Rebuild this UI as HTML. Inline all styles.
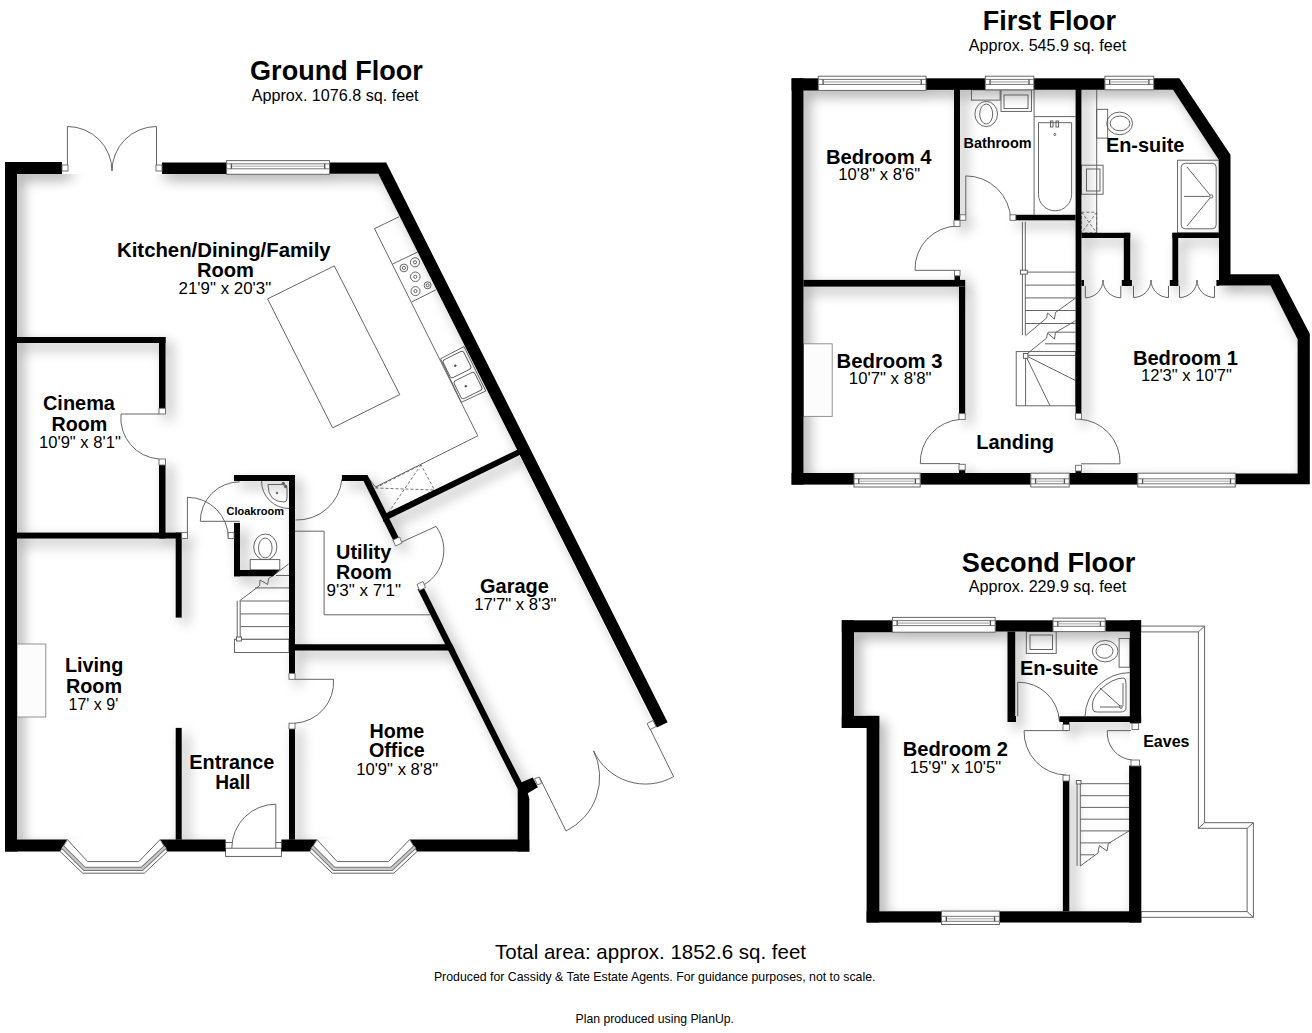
<!DOCTYPE html>
<html><head><meta charset="utf-8"><style>
html,body{margin:0;padding:0;background:#fff;}
svg{display:block;}
text{font-family:"Liberation Sans",sans-serif;fill:#000;}
.fx line,.fx polyline,.fx polygon,.fx path,.fx circle,.fx ellipse,.fx rect{fill:none;stroke:#555;stroke-width:0.9;}
.fx .cb{fill:#fcfcfc;stroke:#888;}
.fx .th{fill:#fff;}
.fx .dot{fill:#555;}
.fx .dash line,.fx .dash polyline,.fx .dash rect{stroke-dasharray:3 2;stroke:#666;}
.win .wo{fill:#fff;stroke:#666;stroke-width:1;}
.win .wl{stroke:#777;stroke-width:1;}
.win .wt{stroke:#555;stroke-width:1.4;}
.win .wm{stroke:#c4c4c4;stroke-width:1.6;}
.win .jb{fill:#fff;stroke:#666;stroke-width:0.9;}
.win .bay{fill:none;stroke:#777;stroke-width:4.2;}
.win .bay2{fill:none;stroke:#c8c8c8;stroke-width:2.4;}
</style></head><body>
<svg width="1312" height="1033" viewBox="0 0 1312 1033">
<defs>
<filter id="sh" x="-10%" y="-10%" width="120%" height="120%"><feGaussianBlur stdDeviation="6.5"/></filter>
<clipPath id="cg"><polygon points="17,174 378.3,173.8 655.5,727.5 539,777 517.7,789 517.7,839.6 17,839.6"/></clipPath>
<clipPath id="cf"><polygon points="803.5,90 1173,89.8 1219,160.2 1219,285.6 1270.5,285.6 1297.6,339.2 1297.6,473.2 803.5,473.2"/></clipPath>
<clipPath id="cs"><polygon points="854,632 1129.8,632 1129.8,911.3 879.4,911.3 879.4,728 854,728"/></clipPath>
</defs>
<rect width="1312" height="1033" fill="#fff"/>
<g clip-path="url(#cg)"><g transform="translate(6,6)" filter="url(#sh)" opacity="0.33"><rect x="5" y="162" width="12" height="689.5"/>
<rect x="5" y="162" width="57" height="12"/>
<rect x="162" y="162.5" width="65" height="11.5"/>
<polygon points="329.5,162.5 386.2,162.5 667.6,722.2 656.8,727.6 378.3,173.8 329.5,173.8"/>
<polygon points="5,839.6 67.4,839.6 60.1,851.5 5,851.5"/>
<polygon points="160.1,839.6 225.6,839.6 225.6,851.5 167.4,851.5"/>
<polygon points="281.4,839.6 317,839.6 309.7,851.5 281.4,851.5"/>
<polygon points="409.7,839.6 529.3,839.6 529.3,851.5 417,851.5"/>
<polygon points="498,750 505,750 521.7,782.3 532.7,777.4 537.9,787.2 527.8,793.3 529.3,798.2 529.3,851.5 517.7,851.5 517.7,789"/>
<polygon points="417.5,589 424.5,589 505,750 498,750"/>
<polygon points="341.9,475 367.5,475 400,540 393,540 363.5,481 341.9,481"/>
<polygon points="383,514.8 522,447.5 522,453.8 383,521.8"/>
<rect x="234" y="475" width="61" height="6"/>
<rect x="289" y="475" width="6" height="198"/>
<rect x="234" y="522.9" width="6" height="53.4"/>
<polygon points="234,570 279.3,570 273,576.3 234,576.3"/>
<rect x="289" y="729" width="6" height="110.7"/>
<rect x="17" y="337" width="148.5" height="6"/>
<rect x="159" y="337" width="6.5" height="71.3"/>
<rect x="159" y="465" width="6.5" height="73.5"/>
<rect x="17" y="532.6" width="164.7" height="5.9"/>
<rect x="175.7" y="532.6" width="6" height="85"/>
<rect x="175.7" y="727.9" width="6" height="111.8"/>
<polygon points="295,644.2 452.1,644.2 455.2,650.5 295,650.5"/>
<rect x="791.6" y="78.3" width="11.9" height="406.3"/>
<rect x="791.6" y="78.3" width="26.7" height="12.2"/>
<rect x="926" y="78.3" width="59.3" height="11.6"/>
<rect x="1033.8" y="78.3" width="71.1" height="11.5"/>
<polygon points="1153.7,78.3 1179.4,78.3 1230.5,154.7 1230.5,274.2 1278.7,274.2 1309.8,333.8 1309.8,484.2 1235.3,484.2 1235.3,473.4 1297.6,473.4 1297.6,339.2 1270.5,285.6 1219,285.6 1219,160.2 1173,89.8 1153.7,89.8"/>
<rect x="791.6" y="473" width="62.4" height="11.6"/>
<rect x="920.2" y="473" width="110.6" height="11.6"/>
<rect x="1069.2" y="473" width="68.6" height="11.6"/>
<rect x="954" y="89" width="6" height="131.3"/>
<rect x="803.5" y="279.9" width="161.7" height="6.7"/>
<rect x="954.5" y="275.8" width="5.5" height="4.2"/>
<rect x="959" y="286.6" width="6.2" height="127.1"/>
<rect x="959" y="470" width="6.2" height="3"/>
<rect x="1075.6" y="89" width="5.8" height="324.5"/>
<rect x="1075.6" y="471" width="5.8" height="2"/>
<rect x="1015.8" y="214.8" width="59.8" height="5.5"/>
<rect x="1081.4" y="232.8" width="48.8" height="5.2"/>
<rect x="1123.8" y="232.8" width="6.4" height="53.1"/>
<rect x="1121.8" y="280" width="10.1" height="5.9"/>
<rect x="1081.4" y="280" width="2.6" height="5.9"/>
<rect x="1172.4" y="232.8" width="46.6" height="5.2"/>
<rect x="1172.4" y="232.8" width="5.8" height="53.1"/>
<rect x="1169.8" y="280" width="8.4" height="5.9"/>
<rect x="1216.4" y="280" width="2.6" height="5.9"/>
<rect x="841.8" y="620.3" width="50.6" height="11.9"/>
<rect x="995.2" y="620.3" width="57.8" height="11.3"/>
<rect x="1105.2" y="620.3" width="35.9" height="11.3"/>
<rect x="841.8" y="620.3" width="12.2" height="107.7"/>
<rect x="841.8" y="715.9" width="36.6" height="12.1"/>
<rect x="866.6" y="715.9" width="12.8" height="206.6"/>
<rect x="866.6" y="911.3" width="74.6" height="11.2"/>
<rect x="999.8" y="911.3" width="141.5" height="11.2"/>
<rect x="1129.8" y="620.3" width="11.3" height="103"/>
<rect x="1129.1" y="765.6" width="12.2" height="156.9"/>
<rect x="1007.5" y="631.6" width="7.7" height="84.4"/>
<rect x="1007.5" y="716" width="8.5" height="6"/>
<rect x="1059.4" y="716.3" width="81.7" height="5.7"/>
<rect x="1063" y="722" width="6.4" height="3"/>
<rect x="1062.9" y="781" width="6.4" height="130.3"/><rect class="jb" x="62" y="165" width="6" height="6"/>
<rect class="jb" x="156" y="165" width="6" height="6"/>
<rect class="wo" x="226.6" y="160.6" width="102.9" height="13.7"/>
<line class="wl" x1="226.6" y1="163.8" x2="329.5" y2="163.8"/>
<line class="wl" x1="226.6" y1="168.8" x2="329.5" y2="168.8"/>
<line class="wt" x1="231.4" y1="163.8" x2="231.4" y2="168.8"/>
<line class="wt" x1="324.7" y1="163.8" x2="324.7" y2="168.8"/>
<line class="wm" x1="232.1" y1="166.3" x2="324" y2="166.3"/>
<polygon class="jb" points="647.1,723.5 653,720.5 656,726.5 650,729.5"/>
<polygon class="wo" points="60.1,851.5 82.7,873.2 144.3,873.2 167.4,851.5 160.1,839.6 138.8,861.6 87.6,861.6 67.4,839.6"/>
<polyline class="bay" points="62.6,847 84.5,868.9 142,868.9 165.3,847"/>
<polyline class="bay2" points="62.6,847 84.5,868.9 142,868.9 165.3,847"/>
<polygon class="wo" points="309.7,851.5 332.3,873.2 393.9,873.2 417,851.5 409.7,839.6 388.4,861.6 337.2,861.6 317,839.6"/>
<polyline class="bay" points="312.2,847 334.1,868.9 391.6,868.9 414.9,847"/>
<polyline class="bay2" points="312.2,847 334.1,868.9 391.6,868.9 414.9,847"/>
<polygon class="jb" points="534.5,778.7 539.4,777.1 541.6,783.2 537.6,785"/>
<polygon class="jb" points="417,584.5 423,581.5 425.5,587.5 419.5,590.5"/>
<polygon class="jb" points="393,540 399.5,537 402,543 395.5,546"/>
<rect class="jb" x="289" y="673.6" width="6" height="5.7"/>
<rect class="jb" x="289" y="723.2" width="6" height="5.8"/>
<rect class="jb" x="159" y="408.3" width="6.5" height="5.7"/>
<rect class="jb" x="159" y="459" width="6.5" height="6"/>
<rect class="jb" x="181.7" y="532.6" width="5.7" height="5.9"/>
<rect class="jb" x="228.2" y="532.6" width="5.8" height="5.9"/>
<rect class="wo" x="818.3" y="76.2" width="107.7" height="14.2"/>
<line class="wl" x1="818.3" y1="79.4" x2="926" y2="79.4"/>
<line class="wl" x1="818.3" y1="84.4" x2="926" y2="84.4"/>
<line class="wt" x1="823.1" y1="79.4" x2="823.1" y2="84.4"/>
<line class="wt" x1="921.2" y1="79.4" x2="921.2" y2="84.4"/>
<line class="wm" x1="823.8" y1="81.9" x2="920.5" y2="81.9"/>
<rect class="wo" x="985.3" y="76.2" width="48.5" height="13.6"/>
<line class="wl" x1="985.3" y1="79.4" x2="1033.8" y2="79.4"/>
<line class="wl" x1="985.3" y1="84.4" x2="1033.8" y2="84.4"/>
<line class="wt" x1="990.1" y1="79.4" x2="990.1" y2="84.4"/>
<line class="wt" x1="1029" y1="79.4" x2="1029" y2="84.4"/>
<line class="wm" x1="990.8" y1="81.9" x2="1028.3" y2="81.9"/>
<rect class="wo" x="1104.9" y="76.2" width="48.8" height="13.6"/>
<line class="wl" x1="1104.9" y1="79.4" x2="1153.7" y2="79.4"/>
<line class="wl" x1="1104.9" y1="84.4" x2="1153.7" y2="84.4"/>
<line class="wt" x1="1109.7" y1="79.4" x2="1109.7" y2="84.4"/>
<line class="wt" x1="1148.9" y1="79.4" x2="1148.9" y2="84.4"/>
<line class="wm" x1="1110.4" y1="81.9" x2="1148.2" y2="81.9"/>
<rect class="wo" x="854" y="473.2" width="66.2" height="13.8"/>
<line class="wl" x1="854" y1="478.8" x2="920.2" y2="478.8"/>
<line class="wl" x1="854" y1="483.8" x2="920.2" y2="483.8"/>
<line class="wt" x1="858.8" y1="478.8" x2="858.8" y2="483.8"/>
<line class="wt" x1="915.4" y1="478.8" x2="915.4" y2="483.8"/>
<line class="wm" x1="859.5" y1="481.3" x2="914.7" y2="481.3"/>
<rect class="wo" x="1030.8" y="473.2" width="38.4" height="13.8"/>
<line class="wl" x1="1030.8" y1="478.8" x2="1069.2" y2="478.8"/>
<line class="wl" x1="1030.8" y1="483.8" x2="1069.2" y2="483.8"/>
<line class="wt" x1="1035.6" y1="478.8" x2="1035.6" y2="483.8"/>
<line class="wt" x1="1064.4" y1="478.8" x2="1064.4" y2="483.8"/>
<line class="wm" x1="1036.3" y1="481.3" x2="1063.7" y2="481.3"/>
<rect class="wo" x="1137.8" y="473.2" width="97.5" height="13.8"/>
<line class="wl" x1="1137.8" y1="478.8" x2="1235.3" y2="478.8"/>
<line class="wl" x1="1137.8" y1="483.8" x2="1235.3" y2="483.8"/>
<line class="wt" x1="1142.6" y1="478.8" x2="1142.6" y2="483.8"/>
<line class="wt" x1="1230.5" y1="478.8" x2="1230.5" y2="483.8"/>
<line class="wm" x1="1143.3" y1="481.3" x2="1229.8" y2="481.3"/>
<rect class="jb" x="954" y="220.3" width="6" height="6.1"/>
<rect class="jb" x="960" y="214.8" width="5.8" height="5.5"/>
<rect class="jb" x="954.5" y="270.3" width="5.5" height="5.5"/>
<rect class="jb" x="959" y="413.7" width="6.2" height="5.7"/>
<rect class="jb" x="959" y="464.3" width="6.2" height="5.7"/>
<rect class="jb" x="1075.6" y="413.5" width="5.8" height="5.7"/>
<rect class="jb" x="1075.6" y="465.3" width="5.8" height="5.7"/>
<rect class="jb" x="1010" y="214.8" width="5.8" height="5.5"/>
<rect class="wo" x="892.4" y="617.4" width="102.8" height="14.8"/>
<line class="wl" x1="892.4" y1="620.6" x2="995.2" y2="620.6"/>
<line class="wl" x1="892.4" y1="625.6" x2="995.2" y2="625.6"/>
<line class="wt" x1="897.2" y1="620.6" x2="897.2" y2="625.6"/>
<line class="wt" x1="990.4" y1="620.6" x2="990.4" y2="625.6"/>
<line class="wm" x1="897.9" y1="623.1" x2="989.7" y2="623.1"/>
<rect class="wo" x="1053" y="618.1" width="52.2" height="13.5"/>
<line class="wl" x1="1053" y1="621.3" x2="1105.2" y2="621.3"/>
<line class="wl" x1="1053" y1="626.3" x2="1105.2" y2="626.3"/>
<line class="wt" x1="1057.8" y1="621.3" x2="1057.8" y2="626.3"/>
<line class="wt" x1="1100.4" y1="621.3" x2="1100.4" y2="626.3"/>
<line class="wm" x1="1058.5" y1="623.8" x2="1099.7" y2="623.8"/>
<rect class="wo" x="941.5" y="911.1" width="57.9" height="13.4"/>
<line class="wl" x1="941.5" y1="916.3" x2="999.4" y2="916.3"/>
<line class="wl" x1="941.5" y1="921.3" x2="999.4" y2="921.3"/>
<line class="wt" x1="946.3" y1="916.3" x2="946.3" y2="921.3"/>
<line class="wt" x1="994.6" y1="916.3" x2="994.6" y2="921.3"/>
<line class="wm" x1="947" y1="918.8" x2="993.9" y2="918.8"/>
<rect class="jb" x="1132" y="723.3" width="6.6" height="6.2"/>
<rect class="jb" x="1131" y="760" width="8.4" height="6"/>
<rect class="jb" x="1063" y="724.5" width="6.4" height="6.1"/>
<rect class="jb" x="1063" y="775.2" width="6.3" height="5.8"/></g></g>
<g clip-path="url(#cf)"><g transform="translate(6,6)" filter="url(#sh)" opacity="0.33"><rect x="5" y="162" width="12" height="689.5"/>
<rect x="5" y="162" width="57" height="12"/>
<rect x="162" y="162.5" width="65" height="11.5"/>
<polygon points="329.5,162.5 386.2,162.5 667.6,722.2 656.8,727.6 378.3,173.8 329.5,173.8"/>
<polygon points="5,839.6 67.4,839.6 60.1,851.5 5,851.5"/>
<polygon points="160.1,839.6 225.6,839.6 225.6,851.5 167.4,851.5"/>
<polygon points="281.4,839.6 317,839.6 309.7,851.5 281.4,851.5"/>
<polygon points="409.7,839.6 529.3,839.6 529.3,851.5 417,851.5"/>
<polygon points="498,750 505,750 521.7,782.3 532.7,777.4 537.9,787.2 527.8,793.3 529.3,798.2 529.3,851.5 517.7,851.5 517.7,789"/>
<polygon points="417.5,589 424.5,589 505,750 498,750"/>
<polygon points="341.9,475 367.5,475 400,540 393,540 363.5,481 341.9,481"/>
<polygon points="383,514.8 522,447.5 522,453.8 383,521.8"/>
<rect x="234" y="475" width="61" height="6"/>
<rect x="289" y="475" width="6" height="198"/>
<rect x="234" y="522.9" width="6" height="53.4"/>
<polygon points="234,570 279.3,570 273,576.3 234,576.3"/>
<rect x="289" y="729" width="6" height="110.7"/>
<rect x="17" y="337" width="148.5" height="6"/>
<rect x="159" y="337" width="6.5" height="71.3"/>
<rect x="159" y="465" width="6.5" height="73.5"/>
<rect x="17" y="532.6" width="164.7" height="5.9"/>
<rect x="175.7" y="532.6" width="6" height="85"/>
<rect x="175.7" y="727.9" width="6" height="111.8"/>
<polygon points="295,644.2 452.1,644.2 455.2,650.5 295,650.5"/>
<rect x="791.6" y="78.3" width="11.9" height="406.3"/>
<rect x="791.6" y="78.3" width="26.7" height="12.2"/>
<rect x="926" y="78.3" width="59.3" height="11.6"/>
<rect x="1033.8" y="78.3" width="71.1" height="11.5"/>
<polygon points="1153.7,78.3 1179.4,78.3 1230.5,154.7 1230.5,274.2 1278.7,274.2 1309.8,333.8 1309.8,484.2 1235.3,484.2 1235.3,473.4 1297.6,473.4 1297.6,339.2 1270.5,285.6 1219,285.6 1219,160.2 1173,89.8 1153.7,89.8"/>
<rect x="791.6" y="473" width="62.4" height="11.6"/>
<rect x="920.2" y="473" width="110.6" height="11.6"/>
<rect x="1069.2" y="473" width="68.6" height="11.6"/>
<rect x="954" y="89" width="6" height="131.3"/>
<rect x="803.5" y="279.9" width="161.7" height="6.7"/>
<rect x="954.5" y="275.8" width="5.5" height="4.2"/>
<rect x="959" y="286.6" width="6.2" height="127.1"/>
<rect x="959" y="470" width="6.2" height="3"/>
<rect x="1075.6" y="89" width="5.8" height="324.5"/>
<rect x="1075.6" y="471" width="5.8" height="2"/>
<rect x="1015.8" y="214.8" width="59.8" height="5.5"/>
<rect x="1081.4" y="232.8" width="48.8" height="5.2"/>
<rect x="1123.8" y="232.8" width="6.4" height="53.1"/>
<rect x="1121.8" y="280" width="10.1" height="5.9"/>
<rect x="1081.4" y="280" width="2.6" height="5.9"/>
<rect x="1172.4" y="232.8" width="46.6" height="5.2"/>
<rect x="1172.4" y="232.8" width="5.8" height="53.1"/>
<rect x="1169.8" y="280" width="8.4" height="5.9"/>
<rect x="1216.4" y="280" width="2.6" height="5.9"/>
<rect x="841.8" y="620.3" width="50.6" height="11.9"/>
<rect x="995.2" y="620.3" width="57.8" height="11.3"/>
<rect x="1105.2" y="620.3" width="35.9" height="11.3"/>
<rect x="841.8" y="620.3" width="12.2" height="107.7"/>
<rect x="841.8" y="715.9" width="36.6" height="12.1"/>
<rect x="866.6" y="715.9" width="12.8" height="206.6"/>
<rect x="866.6" y="911.3" width="74.6" height="11.2"/>
<rect x="999.8" y="911.3" width="141.5" height="11.2"/>
<rect x="1129.8" y="620.3" width="11.3" height="103"/>
<rect x="1129.1" y="765.6" width="12.2" height="156.9"/>
<rect x="1007.5" y="631.6" width="7.7" height="84.4"/>
<rect x="1007.5" y="716" width="8.5" height="6"/>
<rect x="1059.4" y="716.3" width="81.7" height="5.7"/>
<rect x="1063" y="722" width="6.4" height="3"/>
<rect x="1062.9" y="781" width="6.4" height="130.3"/><rect class="jb" x="62" y="165" width="6" height="6"/>
<rect class="jb" x="156" y="165" width="6" height="6"/>
<rect class="wo" x="226.6" y="160.6" width="102.9" height="13.7"/>
<line class="wl" x1="226.6" y1="163.8" x2="329.5" y2="163.8"/>
<line class="wl" x1="226.6" y1="168.8" x2="329.5" y2="168.8"/>
<line class="wt" x1="231.4" y1="163.8" x2="231.4" y2="168.8"/>
<line class="wt" x1="324.7" y1="163.8" x2="324.7" y2="168.8"/>
<line class="wm" x1="232.1" y1="166.3" x2="324" y2="166.3"/>
<polygon class="jb" points="647.1,723.5 653,720.5 656,726.5 650,729.5"/>
<polygon class="wo" points="60.1,851.5 82.7,873.2 144.3,873.2 167.4,851.5 160.1,839.6 138.8,861.6 87.6,861.6 67.4,839.6"/>
<polyline class="bay" points="62.6,847 84.5,868.9 142,868.9 165.3,847"/>
<polyline class="bay2" points="62.6,847 84.5,868.9 142,868.9 165.3,847"/>
<polygon class="wo" points="309.7,851.5 332.3,873.2 393.9,873.2 417,851.5 409.7,839.6 388.4,861.6 337.2,861.6 317,839.6"/>
<polyline class="bay" points="312.2,847 334.1,868.9 391.6,868.9 414.9,847"/>
<polyline class="bay2" points="312.2,847 334.1,868.9 391.6,868.9 414.9,847"/>
<polygon class="jb" points="534.5,778.7 539.4,777.1 541.6,783.2 537.6,785"/>
<polygon class="jb" points="417,584.5 423,581.5 425.5,587.5 419.5,590.5"/>
<polygon class="jb" points="393,540 399.5,537 402,543 395.5,546"/>
<rect class="jb" x="289" y="673.6" width="6" height="5.7"/>
<rect class="jb" x="289" y="723.2" width="6" height="5.8"/>
<rect class="jb" x="159" y="408.3" width="6.5" height="5.7"/>
<rect class="jb" x="159" y="459" width="6.5" height="6"/>
<rect class="jb" x="181.7" y="532.6" width="5.7" height="5.9"/>
<rect class="jb" x="228.2" y="532.6" width="5.8" height="5.9"/>
<rect class="wo" x="818.3" y="76.2" width="107.7" height="14.2"/>
<line class="wl" x1="818.3" y1="79.4" x2="926" y2="79.4"/>
<line class="wl" x1="818.3" y1="84.4" x2="926" y2="84.4"/>
<line class="wt" x1="823.1" y1="79.4" x2="823.1" y2="84.4"/>
<line class="wt" x1="921.2" y1="79.4" x2="921.2" y2="84.4"/>
<line class="wm" x1="823.8" y1="81.9" x2="920.5" y2="81.9"/>
<rect class="wo" x="985.3" y="76.2" width="48.5" height="13.6"/>
<line class="wl" x1="985.3" y1="79.4" x2="1033.8" y2="79.4"/>
<line class="wl" x1="985.3" y1="84.4" x2="1033.8" y2="84.4"/>
<line class="wt" x1="990.1" y1="79.4" x2="990.1" y2="84.4"/>
<line class="wt" x1="1029" y1="79.4" x2="1029" y2="84.4"/>
<line class="wm" x1="990.8" y1="81.9" x2="1028.3" y2="81.9"/>
<rect class="wo" x="1104.9" y="76.2" width="48.8" height="13.6"/>
<line class="wl" x1="1104.9" y1="79.4" x2="1153.7" y2="79.4"/>
<line class="wl" x1="1104.9" y1="84.4" x2="1153.7" y2="84.4"/>
<line class="wt" x1="1109.7" y1="79.4" x2="1109.7" y2="84.4"/>
<line class="wt" x1="1148.9" y1="79.4" x2="1148.9" y2="84.4"/>
<line class="wm" x1="1110.4" y1="81.9" x2="1148.2" y2="81.9"/>
<rect class="wo" x="854" y="473.2" width="66.2" height="13.8"/>
<line class="wl" x1="854" y1="478.8" x2="920.2" y2="478.8"/>
<line class="wl" x1="854" y1="483.8" x2="920.2" y2="483.8"/>
<line class="wt" x1="858.8" y1="478.8" x2="858.8" y2="483.8"/>
<line class="wt" x1="915.4" y1="478.8" x2="915.4" y2="483.8"/>
<line class="wm" x1="859.5" y1="481.3" x2="914.7" y2="481.3"/>
<rect class="wo" x="1030.8" y="473.2" width="38.4" height="13.8"/>
<line class="wl" x1="1030.8" y1="478.8" x2="1069.2" y2="478.8"/>
<line class="wl" x1="1030.8" y1="483.8" x2="1069.2" y2="483.8"/>
<line class="wt" x1="1035.6" y1="478.8" x2="1035.6" y2="483.8"/>
<line class="wt" x1="1064.4" y1="478.8" x2="1064.4" y2="483.8"/>
<line class="wm" x1="1036.3" y1="481.3" x2="1063.7" y2="481.3"/>
<rect class="wo" x="1137.8" y="473.2" width="97.5" height="13.8"/>
<line class="wl" x1="1137.8" y1="478.8" x2="1235.3" y2="478.8"/>
<line class="wl" x1="1137.8" y1="483.8" x2="1235.3" y2="483.8"/>
<line class="wt" x1="1142.6" y1="478.8" x2="1142.6" y2="483.8"/>
<line class="wt" x1="1230.5" y1="478.8" x2="1230.5" y2="483.8"/>
<line class="wm" x1="1143.3" y1="481.3" x2="1229.8" y2="481.3"/>
<rect class="jb" x="954" y="220.3" width="6" height="6.1"/>
<rect class="jb" x="960" y="214.8" width="5.8" height="5.5"/>
<rect class="jb" x="954.5" y="270.3" width="5.5" height="5.5"/>
<rect class="jb" x="959" y="413.7" width="6.2" height="5.7"/>
<rect class="jb" x="959" y="464.3" width="6.2" height="5.7"/>
<rect class="jb" x="1075.6" y="413.5" width="5.8" height="5.7"/>
<rect class="jb" x="1075.6" y="465.3" width="5.8" height="5.7"/>
<rect class="jb" x="1010" y="214.8" width="5.8" height="5.5"/>
<rect class="wo" x="892.4" y="617.4" width="102.8" height="14.8"/>
<line class="wl" x1="892.4" y1="620.6" x2="995.2" y2="620.6"/>
<line class="wl" x1="892.4" y1="625.6" x2="995.2" y2="625.6"/>
<line class="wt" x1="897.2" y1="620.6" x2="897.2" y2="625.6"/>
<line class="wt" x1="990.4" y1="620.6" x2="990.4" y2="625.6"/>
<line class="wm" x1="897.9" y1="623.1" x2="989.7" y2="623.1"/>
<rect class="wo" x="1053" y="618.1" width="52.2" height="13.5"/>
<line class="wl" x1="1053" y1="621.3" x2="1105.2" y2="621.3"/>
<line class="wl" x1="1053" y1="626.3" x2="1105.2" y2="626.3"/>
<line class="wt" x1="1057.8" y1="621.3" x2="1057.8" y2="626.3"/>
<line class="wt" x1="1100.4" y1="621.3" x2="1100.4" y2="626.3"/>
<line class="wm" x1="1058.5" y1="623.8" x2="1099.7" y2="623.8"/>
<rect class="wo" x="941.5" y="911.1" width="57.9" height="13.4"/>
<line class="wl" x1="941.5" y1="916.3" x2="999.4" y2="916.3"/>
<line class="wl" x1="941.5" y1="921.3" x2="999.4" y2="921.3"/>
<line class="wt" x1="946.3" y1="916.3" x2="946.3" y2="921.3"/>
<line class="wt" x1="994.6" y1="916.3" x2="994.6" y2="921.3"/>
<line class="wm" x1="947" y1="918.8" x2="993.9" y2="918.8"/>
<rect class="jb" x="1132" y="723.3" width="6.6" height="6.2"/>
<rect class="jb" x="1131" y="760" width="8.4" height="6"/>
<rect class="jb" x="1063" y="724.5" width="6.4" height="6.1"/>
<rect class="jb" x="1063" y="775.2" width="6.3" height="5.8"/></g></g>
<g clip-path="url(#cs)"><g transform="translate(6,6)" filter="url(#sh)" opacity="0.33"><rect x="5" y="162" width="12" height="689.5"/>
<rect x="5" y="162" width="57" height="12"/>
<rect x="162" y="162.5" width="65" height="11.5"/>
<polygon points="329.5,162.5 386.2,162.5 667.6,722.2 656.8,727.6 378.3,173.8 329.5,173.8"/>
<polygon points="5,839.6 67.4,839.6 60.1,851.5 5,851.5"/>
<polygon points="160.1,839.6 225.6,839.6 225.6,851.5 167.4,851.5"/>
<polygon points="281.4,839.6 317,839.6 309.7,851.5 281.4,851.5"/>
<polygon points="409.7,839.6 529.3,839.6 529.3,851.5 417,851.5"/>
<polygon points="498,750 505,750 521.7,782.3 532.7,777.4 537.9,787.2 527.8,793.3 529.3,798.2 529.3,851.5 517.7,851.5 517.7,789"/>
<polygon points="417.5,589 424.5,589 505,750 498,750"/>
<polygon points="341.9,475 367.5,475 400,540 393,540 363.5,481 341.9,481"/>
<polygon points="383,514.8 522,447.5 522,453.8 383,521.8"/>
<rect x="234" y="475" width="61" height="6"/>
<rect x="289" y="475" width="6" height="198"/>
<rect x="234" y="522.9" width="6" height="53.4"/>
<polygon points="234,570 279.3,570 273,576.3 234,576.3"/>
<rect x="289" y="729" width="6" height="110.7"/>
<rect x="17" y="337" width="148.5" height="6"/>
<rect x="159" y="337" width="6.5" height="71.3"/>
<rect x="159" y="465" width="6.5" height="73.5"/>
<rect x="17" y="532.6" width="164.7" height="5.9"/>
<rect x="175.7" y="532.6" width="6" height="85"/>
<rect x="175.7" y="727.9" width="6" height="111.8"/>
<polygon points="295,644.2 452.1,644.2 455.2,650.5 295,650.5"/>
<rect x="791.6" y="78.3" width="11.9" height="406.3"/>
<rect x="791.6" y="78.3" width="26.7" height="12.2"/>
<rect x="926" y="78.3" width="59.3" height="11.6"/>
<rect x="1033.8" y="78.3" width="71.1" height="11.5"/>
<polygon points="1153.7,78.3 1179.4,78.3 1230.5,154.7 1230.5,274.2 1278.7,274.2 1309.8,333.8 1309.8,484.2 1235.3,484.2 1235.3,473.4 1297.6,473.4 1297.6,339.2 1270.5,285.6 1219,285.6 1219,160.2 1173,89.8 1153.7,89.8"/>
<rect x="791.6" y="473" width="62.4" height="11.6"/>
<rect x="920.2" y="473" width="110.6" height="11.6"/>
<rect x="1069.2" y="473" width="68.6" height="11.6"/>
<rect x="954" y="89" width="6" height="131.3"/>
<rect x="803.5" y="279.9" width="161.7" height="6.7"/>
<rect x="954.5" y="275.8" width="5.5" height="4.2"/>
<rect x="959" y="286.6" width="6.2" height="127.1"/>
<rect x="959" y="470" width="6.2" height="3"/>
<rect x="1075.6" y="89" width="5.8" height="324.5"/>
<rect x="1075.6" y="471" width="5.8" height="2"/>
<rect x="1015.8" y="214.8" width="59.8" height="5.5"/>
<rect x="1081.4" y="232.8" width="48.8" height="5.2"/>
<rect x="1123.8" y="232.8" width="6.4" height="53.1"/>
<rect x="1121.8" y="280" width="10.1" height="5.9"/>
<rect x="1081.4" y="280" width="2.6" height="5.9"/>
<rect x="1172.4" y="232.8" width="46.6" height="5.2"/>
<rect x="1172.4" y="232.8" width="5.8" height="53.1"/>
<rect x="1169.8" y="280" width="8.4" height="5.9"/>
<rect x="1216.4" y="280" width="2.6" height="5.9"/>
<rect x="841.8" y="620.3" width="50.6" height="11.9"/>
<rect x="995.2" y="620.3" width="57.8" height="11.3"/>
<rect x="1105.2" y="620.3" width="35.9" height="11.3"/>
<rect x="841.8" y="620.3" width="12.2" height="107.7"/>
<rect x="841.8" y="715.9" width="36.6" height="12.1"/>
<rect x="866.6" y="715.9" width="12.8" height="206.6"/>
<rect x="866.6" y="911.3" width="74.6" height="11.2"/>
<rect x="999.8" y="911.3" width="141.5" height="11.2"/>
<rect x="1129.8" y="620.3" width="11.3" height="103"/>
<rect x="1129.1" y="765.6" width="12.2" height="156.9"/>
<rect x="1007.5" y="631.6" width="7.7" height="84.4"/>
<rect x="1007.5" y="716" width="8.5" height="6"/>
<rect x="1059.4" y="716.3" width="81.7" height="5.7"/>
<rect x="1063" y="722" width="6.4" height="3"/>
<rect x="1062.9" y="781" width="6.4" height="130.3"/><rect class="jb" x="62" y="165" width="6" height="6"/>
<rect class="jb" x="156" y="165" width="6" height="6"/>
<rect class="wo" x="226.6" y="160.6" width="102.9" height="13.7"/>
<line class="wl" x1="226.6" y1="163.8" x2="329.5" y2="163.8"/>
<line class="wl" x1="226.6" y1="168.8" x2="329.5" y2="168.8"/>
<line class="wt" x1="231.4" y1="163.8" x2="231.4" y2="168.8"/>
<line class="wt" x1="324.7" y1="163.8" x2="324.7" y2="168.8"/>
<line class="wm" x1="232.1" y1="166.3" x2="324" y2="166.3"/>
<polygon class="jb" points="647.1,723.5 653,720.5 656,726.5 650,729.5"/>
<polygon class="wo" points="60.1,851.5 82.7,873.2 144.3,873.2 167.4,851.5 160.1,839.6 138.8,861.6 87.6,861.6 67.4,839.6"/>
<polyline class="bay" points="62.6,847 84.5,868.9 142,868.9 165.3,847"/>
<polyline class="bay2" points="62.6,847 84.5,868.9 142,868.9 165.3,847"/>
<polygon class="wo" points="309.7,851.5 332.3,873.2 393.9,873.2 417,851.5 409.7,839.6 388.4,861.6 337.2,861.6 317,839.6"/>
<polyline class="bay" points="312.2,847 334.1,868.9 391.6,868.9 414.9,847"/>
<polyline class="bay2" points="312.2,847 334.1,868.9 391.6,868.9 414.9,847"/>
<polygon class="jb" points="534.5,778.7 539.4,777.1 541.6,783.2 537.6,785"/>
<polygon class="jb" points="417,584.5 423,581.5 425.5,587.5 419.5,590.5"/>
<polygon class="jb" points="393,540 399.5,537 402,543 395.5,546"/>
<rect class="jb" x="289" y="673.6" width="6" height="5.7"/>
<rect class="jb" x="289" y="723.2" width="6" height="5.8"/>
<rect class="jb" x="159" y="408.3" width="6.5" height="5.7"/>
<rect class="jb" x="159" y="459" width="6.5" height="6"/>
<rect class="jb" x="181.7" y="532.6" width="5.7" height="5.9"/>
<rect class="jb" x="228.2" y="532.6" width="5.8" height="5.9"/>
<rect class="wo" x="818.3" y="76.2" width="107.7" height="14.2"/>
<line class="wl" x1="818.3" y1="79.4" x2="926" y2="79.4"/>
<line class="wl" x1="818.3" y1="84.4" x2="926" y2="84.4"/>
<line class="wt" x1="823.1" y1="79.4" x2="823.1" y2="84.4"/>
<line class="wt" x1="921.2" y1="79.4" x2="921.2" y2="84.4"/>
<line class="wm" x1="823.8" y1="81.9" x2="920.5" y2="81.9"/>
<rect class="wo" x="985.3" y="76.2" width="48.5" height="13.6"/>
<line class="wl" x1="985.3" y1="79.4" x2="1033.8" y2="79.4"/>
<line class="wl" x1="985.3" y1="84.4" x2="1033.8" y2="84.4"/>
<line class="wt" x1="990.1" y1="79.4" x2="990.1" y2="84.4"/>
<line class="wt" x1="1029" y1="79.4" x2="1029" y2="84.4"/>
<line class="wm" x1="990.8" y1="81.9" x2="1028.3" y2="81.9"/>
<rect class="wo" x="1104.9" y="76.2" width="48.8" height="13.6"/>
<line class="wl" x1="1104.9" y1="79.4" x2="1153.7" y2="79.4"/>
<line class="wl" x1="1104.9" y1="84.4" x2="1153.7" y2="84.4"/>
<line class="wt" x1="1109.7" y1="79.4" x2="1109.7" y2="84.4"/>
<line class="wt" x1="1148.9" y1="79.4" x2="1148.9" y2="84.4"/>
<line class="wm" x1="1110.4" y1="81.9" x2="1148.2" y2="81.9"/>
<rect class="wo" x="854" y="473.2" width="66.2" height="13.8"/>
<line class="wl" x1="854" y1="478.8" x2="920.2" y2="478.8"/>
<line class="wl" x1="854" y1="483.8" x2="920.2" y2="483.8"/>
<line class="wt" x1="858.8" y1="478.8" x2="858.8" y2="483.8"/>
<line class="wt" x1="915.4" y1="478.8" x2="915.4" y2="483.8"/>
<line class="wm" x1="859.5" y1="481.3" x2="914.7" y2="481.3"/>
<rect class="wo" x="1030.8" y="473.2" width="38.4" height="13.8"/>
<line class="wl" x1="1030.8" y1="478.8" x2="1069.2" y2="478.8"/>
<line class="wl" x1="1030.8" y1="483.8" x2="1069.2" y2="483.8"/>
<line class="wt" x1="1035.6" y1="478.8" x2="1035.6" y2="483.8"/>
<line class="wt" x1="1064.4" y1="478.8" x2="1064.4" y2="483.8"/>
<line class="wm" x1="1036.3" y1="481.3" x2="1063.7" y2="481.3"/>
<rect class="wo" x="1137.8" y="473.2" width="97.5" height="13.8"/>
<line class="wl" x1="1137.8" y1="478.8" x2="1235.3" y2="478.8"/>
<line class="wl" x1="1137.8" y1="483.8" x2="1235.3" y2="483.8"/>
<line class="wt" x1="1142.6" y1="478.8" x2="1142.6" y2="483.8"/>
<line class="wt" x1="1230.5" y1="478.8" x2="1230.5" y2="483.8"/>
<line class="wm" x1="1143.3" y1="481.3" x2="1229.8" y2="481.3"/>
<rect class="jb" x="954" y="220.3" width="6" height="6.1"/>
<rect class="jb" x="960" y="214.8" width="5.8" height="5.5"/>
<rect class="jb" x="954.5" y="270.3" width="5.5" height="5.5"/>
<rect class="jb" x="959" y="413.7" width="6.2" height="5.7"/>
<rect class="jb" x="959" y="464.3" width="6.2" height="5.7"/>
<rect class="jb" x="1075.6" y="413.5" width="5.8" height="5.7"/>
<rect class="jb" x="1075.6" y="465.3" width="5.8" height="5.7"/>
<rect class="jb" x="1010" y="214.8" width="5.8" height="5.5"/>
<rect class="wo" x="892.4" y="617.4" width="102.8" height="14.8"/>
<line class="wl" x1="892.4" y1="620.6" x2="995.2" y2="620.6"/>
<line class="wl" x1="892.4" y1="625.6" x2="995.2" y2="625.6"/>
<line class="wt" x1="897.2" y1="620.6" x2="897.2" y2="625.6"/>
<line class="wt" x1="990.4" y1="620.6" x2="990.4" y2="625.6"/>
<line class="wm" x1="897.9" y1="623.1" x2="989.7" y2="623.1"/>
<rect class="wo" x="1053" y="618.1" width="52.2" height="13.5"/>
<line class="wl" x1="1053" y1="621.3" x2="1105.2" y2="621.3"/>
<line class="wl" x1="1053" y1="626.3" x2="1105.2" y2="626.3"/>
<line class="wt" x1="1057.8" y1="621.3" x2="1057.8" y2="626.3"/>
<line class="wt" x1="1100.4" y1="621.3" x2="1100.4" y2="626.3"/>
<line class="wm" x1="1058.5" y1="623.8" x2="1099.7" y2="623.8"/>
<rect class="wo" x="941.5" y="911.1" width="57.9" height="13.4"/>
<line class="wl" x1="941.5" y1="916.3" x2="999.4" y2="916.3"/>
<line class="wl" x1="941.5" y1="921.3" x2="999.4" y2="921.3"/>
<line class="wt" x1="946.3" y1="916.3" x2="946.3" y2="921.3"/>
<line class="wt" x1="994.6" y1="916.3" x2="994.6" y2="921.3"/>
<line class="wm" x1="947" y1="918.8" x2="993.9" y2="918.8"/>
<rect class="jb" x="1132" y="723.3" width="6.6" height="6.2"/>
<rect class="jb" x="1131" y="760" width="8.4" height="6"/>
<rect class="jb" x="1063" y="724.5" width="6.4" height="6.1"/>
<rect class="jb" x="1063" y="775.2" width="6.3" height="5.8"/></g></g>
<g class="fx">
<line x1="67.4" y1="126.5" x2="67.4" y2="165"/>
<line x1="156.5" y1="126.5" x2="156.5" y2="165"/>
<path d="M67.4 126.5A44.5 44.5 0 0 1 112 171"/>
<path d="M156.5 126.5A44.5 44.5 0 0 0 112 171"/>
<rect x="225.6" y="848.2" width="55.8" height="8.2" class="wo"/>
<line x1="225.6" y1="842.5" x2="232" y2="842.5"/>
<line x1="276" y1="842.5" x2="281.4" y2="842.5"/>
<line x1="275.8" y1="804.2" x2="275.8" y2="848.2"/>
<path d="M275.8 804.2A44 44 0 0 0 231.8 848.2"/>
<line x1="159" y1="414" x2="121" y2="414"/>
<path d="M121 414A41 41 0 0 0 159 459"/>
<line x1="187.4" y1="538.4" x2="187.4" y2="497.3"/>
<path d="M187.4 497.3A41 41 0 0 1 228.4 538.4"/>
<line x1="200.3" y1="521.3" x2="239.8" y2="521.3"/>
<path d="M239.8 481.8A39.5 39.5 0 0 0 200.3 521.3"/>
<path d="M341.9 479.4A45 45 0 0 1 295.5 520"/>
<line x1="295" y1="679.3" x2="333.5" y2="679.3"/>
<path d="M333.5 679.3A41 41 0 0 1 295 723.2"/>
<line x1="399.5" y1="543" x2="436" y2="526.4"/>
<path d="M436 526.4A40 40 0 0 1 419.5 587"/>
<line x1="539.4" y1="777.1" x2="566" y2="831"/>
<path d="M566 831A60 60 0 0 0 593.6 750.8"/>
<line x1="649.2" y1="727.1" x2="673.6" y2="776.6"/>
<path d="M673.6 776.6A57 57 0 0 1 593.6 750.8"/>
<rect x="17" y="644" width="28.8" height="73" class="cb"/>
<line x1="276" y1="575.5" x2="289" y2="575.5"/>
<line x1="255" y1="587.9" x2="289" y2="587.9"/>
<line x1="240.5" y1="601" x2="289" y2="601"/>
<line x1="240.5" y1="613.9" x2="289" y2="613.9"/>
<line x1="240.5" y1="626.6" x2="289" y2="626.6"/>
<line x1="240.5" y1="639.3" x2="289" y2="639.3"/>
<rect x="234.4" y="639.3" width="54.6" height="13.2" class="th"/>
<line x1="237.2" y1="600.7" x2="237.2" y2="639"/>
<line x1="240.2" y1="600.7" x2="240.2" y2="639"/>
<rect x="236.5" y="637" width="5" height="4" class="th"/>
<polyline points="288.5,564.1 272.8,575.8 268.7,578.4 267.7,584.5 260,580 259.6,585.5 256.5,588 239.7,600.7"/>
<path d="M261.5 481A27.5 27.5 0 0 0 289 508.5"/>
<path d="M268 484.5Q268 502 284 502Q287 502 287 498V488Q287 484.5 283 484.5Z"/>
<circle cx="277" cy="493" r="0.8" class="dot"/>
<circle cx="283.3" cy="483.5" r="1.2" class="dot"/>
<circle cx="285.6" cy="486.5" r="1.2" class="dot"/>
<ellipse cx="265.3" cy="547" rx="11.6" ry="13"/><ellipse cx="265.3" cy="548" rx="6.8" ry="10"/>
<rect x="250.2" y="559.6" width="29.6" height="10.2" class="th"/>
<polyline points="295,531.2 324.1,531.2 324.1,614.8 430,614.8"/>
<polygon points="334.3,265.9 399.8,394.6 332.6,427.8 267.6,298.9"/>
<polyline points="399,216.8 374.5,228.6 477.8,435.8 375.5,487"/>
<polyline points="375.5,487 366.5,475.5"/>
<line x1="392.3" y1="264.2" x2="417.4" y2="252.1"/>
<line x1="411.6" y1="302" x2="435.8" y2="289.9"/>
<circle cx="415" cy="262.3" r="4.6"/>
<circle cx="415" cy="262.3" r="1.6"/>
<circle cx="403.9" cy="267.9" r="3.9"/>
<circle cx="403.9" cy="267.9" r="1.6"/>
<circle cx="415.3" cy="276.8" r="4.8"/>
<circle cx="415.3" cy="276.8" r="1.6"/>
<circle cx="415.5" cy="291.1" r="4.5"/>
<circle cx="415.5" cy="291.1" r="1.6"/>
<circle cx="427.6" cy="285.3" r="3.5"/>
<circle cx="427.6" cy="285.3" r="1.6"/>
<polygon points="440.5,358.8 464,346.6 485.8,391 461.4,402.3"/>
<rect x="-11.5" y="-10" width="23" height="20" rx="2.5" transform="translate(457 364.5) rotate(-26.57)"/>
<rect x="-11.5" y="-10" width="23" height="20" rx="2.5" transform="translate(468 385.5) rotate(-26.57)"/>
<circle cx="455.3" cy="365.7" r="0.9" class="dot"/>
<circle cx="465.8" cy="386.2" r="0.9" class="dot"/>
<g class="dash">
<polyline points="375.5,488 421,464.8 434.5,490 388,513.3"/>
<line x1="375.5" y1="488" x2="434.5" y2="490"/>
<line x1="421" y1="464.8" x2="388" y2="513.3"/>
</g>
<rect x="803.5" y="343.8" width="28.7" height="72.6" class="cb"/>
<line x1="965.8" y1="175.9" x2="965.8" y2="214.8"/>
<path d="M965.8 175.9A45 45 0 0 1 1010.8 220"/>
<line x1="954.5" y1="270.3" x2="915" y2="270.3"/>
<path d="M915 270.3A43 43 0 0 1 957 226"/>
<line x1="960" y1="463.6" x2="920.3" y2="463.6"/>
<path d="M920.3 463.6A43 43 0 0 1 960 419.4"/>
<line x1="1081" y1="463.8" x2="1120" y2="463.8"/>
<path d="M1120 463.8A43 43 0 0 0 1079 419.2"/>
<line x1="1085.3" y1="285.9" x2="1085.3" y2="297.8"/>
<path d="M1085.3 297.8A17.8 17.8 0 0 0 1103 280"/>
<line x1="1120.8" y1="285.9" x2="1120.8" y2="297.8"/>
<path d="M1120.8 297.8A17.8 17.8 0 0 1 1103 280"/>
<line x1="1133.5" y1="285.9" x2="1133.5" y2="297.5"/>
<path d="M1133.5 297.5A17.5 17.5 0 0 0 1151 280"/>
<line x1="1168.5" y1="285.9" x2="1168.5" y2="297.5"/>
<path d="M1168.5 297.5A17.5 17.5 0 0 1 1151 280"/>
<line x1="1179.5" y1="285.9" x2="1179.5" y2="297.5"/>
<path d="M1179.5 297.5A17.5 17.5 0 0 0 1197 280"/>
<line x1="1214.5" y1="285.9" x2="1214.5" y2="297.5"/>
<path d="M1214.5 297.5A17.5 17.5 0 0 1 1197 280"/>
<rect x="971.4" y="89.8" width="28.7" height="10.3"/>
<ellipse cx="986.2" cy="114" rx="11.3" ry="12.6"/><ellipse cx="986.2" cy="114" rx="6.5" ry="10"/>
<rect x="1001" y="89.8" width="30.5" height="21.6"/>
<rect x="1004" y="95" width="24" height="13.6"/>
<line x1="1034.1" y1="89.8" x2="1034.1" y2="214.8"/>
<line x1="1034.1" y1="116.6" x2="1075.6" y2="116.6"/>
<path d="M1038.5 122.7H1071.6V194.3A16.55 16.5 0 0 1 1038.5 194.3Z"/>
<rect x="1050.5" y="121" width="2.5" height="6"/>
<rect x="1056" y="121" width="2.5" height="6"/>
<circle cx="1054.8" cy="134.5" r="1"/>
<line x1="1022.4" y1="221.8" x2="1022.4" y2="335.1"/>
<line x1="1025.3" y1="221.8" x2="1025.3" y2="335.1"/>
<line x1="1025.3" y1="272.1" x2="1075.6" y2="272.1"/>
<line x1="1025.3" y1="285.1" x2="1075.6" y2="285.1"/>
<line x1="1025.3" y1="297.9" x2="1075.6" y2="297.9"/>
<line x1="1025.3" y1="310.5" x2="1075.6" y2="310.5"/>
<line x1="1025.3" y1="323.5" x2="1075.6" y2="323.5"/>
<line x1="1048" y1="332.2" x2="1075.6" y2="332.2"/>
<line x1="1045" y1="343.8" x2="1075.6" y2="343.8"/>
<polyline points="1025.3,336 1046.6,318 1047.5,313 1054.4,319 1055.5,312.5 1075.6,298"/>
<polyline points="1026.3,354.5 1046.6,338 1047.5,333 1054.4,339 1055.5,332.5 1075.6,320.6"/>
<rect x="1016.2" y="351.6" width="59.4" height="54.2"/>
<line x1="1025.6" y1="355.5" x2="1025.6" y2="405.8"/>
<line x1="1025.6" y1="355.4" x2="1075.6" y2="355.4"/>
<line x1="1025.6" y1="355.5" x2="1075.6" y2="380.6"/>
<line x1="1025.6" y1="355.5" x2="1050" y2="405.8"/>
<rect x="1023.4" y="353.5" width="4.5" height="4.8" class="th"/>
<rect x="1020.5" y="270.2" width="6.8" height="3.9" class="th"/>
<line x1="1096.7" y1="89.8" x2="1096.7" y2="232.8"/>
<rect x="1096.7" y="109.3" width="11" height="28.8"/>
<ellipse cx="1119.6" cy="123.4" rx="12.9" ry="11.3"/><ellipse cx="1120" cy="123.4" rx="9.8" ry="7.4"/>
<rect x="1081.4" y="165.2" width="21.7" height="29"/>
<rect x="1086.5" y="169" width="13.5" height="22"/>
<g class="dash">
<rect x="1081.4" y="212.2" width="15.3" height="20.6"/>
<line x1="1081.4" y1="212.2" x2="1096.7" y2="232.8"/>
<line x1="1096.7" y1="212.2" x2="1081.4" y2="232.8"/>
</g>
<rect x="1177.6" y="160.2" width="41.4" height="72.6"/>
<rect x="1181.2" y="163.3" width="35" height="65.5" rx="4"/>
<circle cx="1211.2" cy="196.4" r="1.6"/>
<line x1="1187" y1="167" x2="1210" y2="195"/>
<line x1="1187" y1="226" x2="1210" y2="198"/>
<line x1="1184" y1="196.4" x2="1209" y2="196.4"/>
<line x1="1017.7" y1="682.2" x2="1017.7" y2="716.3"/>
<path d="M1017.7 682.2A41 41 0 0 1 1059.4 721"/>
<line x1="1067.9" y1="730.6" x2="1024.1" y2="730.6"/>
<path d="M1024.1 730.6A43 43 0 0 0 1065.8 775"/>
<line x1="1131" y1="730.6" x2="1107.4" y2="730.6"/>
<path d="M1107.4 730.6A27 27 0 0 0 1131.9 760"/>
<rect x="1026.3" y="631.6" width="29.9" height="21.8"/>
<rect x="1030" y="635" width="22.5" height="14.5"/>
<rect x="1119.1" y="638.4" width="10.7" height="28.8"/>
<ellipse cx="1105.2" cy="651.2" rx="12.8" ry="10.7"/><ellipse cx="1104.5" cy="651.2" rx="8.5" ry="7"/>
<path d="M1085 716.3A45 45 0 0 1 1129.8 672.6"/>
<path d="M1093 710Q1090 700 1100 690Q1112 678 1124 678Q1126 679 1126 684V708Q1126 712 1120 712H1097Q1093 712 1093 710Z"/>
<line x1="1100" y1="688" x2="1120" y2="706"/>
<line x1="1123" y1="683" x2="1123" y2="706"/>
<line x1="1100" y1="707" x2="1120" y2="707"/>
<circle cx="1121" cy="707" r="1.3"/>
<line x1="1077.1" y1="782.1" x2="1077.1" y2="866"/>
<line x1="1080.3" y1="782.1" x2="1080.3" y2="866"/>
<line x1="1080.3" y1="783.7" x2="1129.1" y2="783.7"/>
<line x1="1080.3" y1="795.7" x2="1129.1" y2="795.7"/>
<line x1="1080.3" y1="807.4" x2="1129.1" y2="807.4"/>
<line x1="1080.3" y1="819.2" x2="1129.1" y2="819.2"/>
<line x1="1080.3" y1="830.9" x2="1129.1" y2="830.9"/>
<line x1="1080.3" y1="842.9" x2="1111" y2="842.9"/>
<line x1="1080.3" y1="854.8" x2="1094" y2="854.8"/>
<polyline points="1080.3,866 1098,853 1099.3,845.5 1107,851 1108.3,843.5 1129.1,830.9"/>
<rect x="1076.3" y="780.5" width="4.7" height="3.5" class="th"/>
<polyline points="1141.1,626.1 1204.6,626.1 1204.6,822.7 1253.4,822.7 1253.4,917.3 1141.3,917.3"/>
<polyline points="1141.1,631.9 1198.4,631.9 1198.4,828.3 1247.1,828.3 1247.1,911.6 1141.3,911.6"/>
<line x1="1198.4" y1="631.9" x2="1204.6" y2="626.1"/>
<line x1="1198.4" y1="828.3" x2="1204.6" y2="822.7"/>
<line x1="1247.1" y1="828.3" x2="1253.4" y2="822.7"/>
<line x1="1247.1" y1="911.6" x2="1253.4" y2="917.3"/>
</g>
<g fill="#000">
<rect x="5" y="162" width="12" height="689.5"/>
<rect x="5" y="162" width="57" height="12"/>
<rect x="162" y="162.5" width="65" height="11.5"/>
<polygon points="329.5,162.5 386.2,162.5 667.6,722.2 656.8,727.6 378.3,173.8 329.5,173.8"/>
<polygon points="5,839.6 67.4,839.6 60.1,851.5 5,851.5"/>
<polygon points="160.1,839.6 225.6,839.6 225.6,851.5 167.4,851.5"/>
<polygon points="281.4,839.6 317,839.6 309.7,851.5 281.4,851.5"/>
<polygon points="409.7,839.6 529.3,839.6 529.3,851.5 417,851.5"/>
<polygon points="498,750 505,750 521.7,782.3 532.7,777.4 537.9,787.2 527.8,793.3 529.3,798.2 529.3,851.5 517.7,851.5 517.7,789"/>
<polygon points="417.5,589 424.5,589 505,750 498,750"/>
<polygon points="341.9,475 367.5,475 400,540 393,540 363.5,481 341.9,481"/>
<polygon points="383,514.8 522,447.5 522,453.8 383,521.8"/>
<rect x="234" y="475" width="61" height="6"/>
<rect x="289" y="475" width="6" height="198"/>
<rect x="234" y="522.9" width="6" height="53.4"/>
<polygon points="234,570 279.3,570 273,576.3 234,576.3"/>
<rect x="289" y="729" width="6" height="110.7"/>
<rect x="17" y="337" width="148.5" height="6"/>
<rect x="159" y="337" width="6.5" height="71.3"/>
<rect x="159" y="465" width="6.5" height="73.5"/>
<rect x="17" y="532.6" width="164.7" height="5.9"/>
<rect x="175.7" y="532.6" width="6" height="85"/>
<rect x="175.7" y="727.9" width="6" height="111.8"/>
<polygon points="295,644.2 452.1,644.2 455.2,650.5 295,650.5"/>
<rect x="791.6" y="78.3" width="11.9" height="406.3"/>
<rect x="791.6" y="78.3" width="26.7" height="12.2"/>
<rect x="926" y="78.3" width="59.3" height="11.6"/>
<rect x="1033.8" y="78.3" width="71.1" height="11.5"/>
<polygon points="1153.7,78.3 1179.4,78.3 1230.5,154.7 1230.5,274.2 1278.7,274.2 1309.8,333.8 1309.8,484.2 1235.3,484.2 1235.3,473.4 1297.6,473.4 1297.6,339.2 1270.5,285.6 1219,285.6 1219,160.2 1173,89.8 1153.7,89.8"/>
<rect x="791.6" y="473" width="62.4" height="11.6"/>
<rect x="920.2" y="473" width="110.6" height="11.6"/>
<rect x="1069.2" y="473" width="68.6" height="11.6"/>
<rect x="954" y="89" width="6" height="131.3"/>
<rect x="803.5" y="279.9" width="161.7" height="6.7"/>
<rect x="954.5" y="275.8" width="5.5" height="4.2"/>
<rect x="959" y="286.6" width="6.2" height="127.1"/>
<rect x="959" y="470" width="6.2" height="3"/>
<rect x="1075.6" y="89" width="5.8" height="324.5"/>
<rect x="1075.6" y="471" width="5.8" height="2"/>
<rect x="1015.8" y="214.8" width="59.8" height="5.5"/>
<rect x="1081.4" y="232.8" width="48.8" height="5.2"/>
<rect x="1123.8" y="232.8" width="6.4" height="53.1"/>
<rect x="1121.8" y="280" width="10.1" height="5.9"/>
<rect x="1081.4" y="280" width="2.6" height="5.9"/>
<rect x="1172.4" y="232.8" width="46.6" height="5.2"/>
<rect x="1172.4" y="232.8" width="5.8" height="53.1"/>
<rect x="1169.8" y="280" width="8.4" height="5.9"/>
<rect x="1216.4" y="280" width="2.6" height="5.9"/>
<rect x="841.8" y="620.3" width="50.6" height="11.9"/>
<rect x="995.2" y="620.3" width="57.8" height="11.3"/>
<rect x="1105.2" y="620.3" width="35.9" height="11.3"/>
<rect x="841.8" y="620.3" width="12.2" height="107.7"/>
<rect x="841.8" y="715.9" width="36.6" height="12.1"/>
<rect x="866.6" y="715.9" width="12.8" height="206.6"/>
<rect x="866.6" y="911.3" width="74.6" height="11.2"/>
<rect x="999.8" y="911.3" width="141.5" height="11.2"/>
<rect x="1129.8" y="620.3" width="11.3" height="103"/>
<rect x="1129.1" y="765.6" width="12.2" height="156.9"/>
<rect x="1007.5" y="631.6" width="7.7" height="84.4"/>
<rect x="1007.5" y="716" width="8.5" height="6"/>
<rect x="1059.4" y="716.3" width="81.7" height="5.7"/>
<rect x="1063" y="722" width="6.4" height="3"/>
<rect x="1062.9" y="781" width="6.4" height="130.3"/>
</g>
<g class="win">
<rect class="jb" x="62" y="165" width="6" height="6"/>
<rect class="jb" x="156" y="165" width="6" height="6"/>
<rect class="wo" x="226.6" y="160.6" width="102.9" height="13.7"/>
<line class="wl" x1="226.6" y1="163.8" x2="329.5" y2="163.8"/>
<line class="wl" x1="226.6" y1="168.8" x2="329.5" y2="168.8"/>
<line class="wt" x1="231.4" y1="163.8" x2="231.4" y2="168.8"/>
<line class="wt" x1="324.7" y1="163.8" x2="324.7" y2="168.8"/>
<line class="wm" x1="232.1" y1="166.3" x2="324" y2="166.3"/>
<polygon class="jb" points="647.1,723.5 653,720.5 656,726.5 650,729.5"/>
<polygon class="wo" points="60.1,851.5 82.7,873.2 144.3,873.2 167.4,851.5 160.1,839.6 138.8,861.6 87.6,861.6 67.4,839.6"/>
<polyline class="bay" points="62.6,847 84.5,868.9 142,868.9 165.3,847"/>
<polyline class="bay2" points="62.6,847 84.5,868.9 142,868.9 165.3,847"/>
<polygon class="wo" points="309.7,851.5 332.3,873.2 393.9,873.2 417,851.5 409.7,839.6 388.4,861.6 337.2,861.6 317,839.6"/>
<polyline class="bay" points="312.2,847 334.1,868.9 391.6,868.9 414.9,847"/>
<polyline class="bay2" points="312.2,847 334.1,868.9 391.6,868.9 414.9,847"/>
<polygon class="jb" points="534.5,778.7 539.4,777.1 541.6,783.2 537.6,785"/>
<polygon class="jb" points="417,584.5 423,581.5 425.5,587.5 419.5,590.5"/>
<polygon class="jb" points="393,540 399.5,537 402,543 395.5,546"/>
<rect class="jb" x="289" y="673.6" width="6" height="5.7"/>
<rect class="jb" x="289" y="723.2" width="6" height="5.8"/>
<rect class="jb" x="159" y="408.3" width="6.5" height="5.7"/>
<rect class="jb" x="159" y="459" width="6.5" height="6"/>
<rect class="jb" x="181.7" y="532.6" width="5.7" height="5.9"/>
<rect class="jb" x="228.2" y="532.6" width="5.8" height="5.9"/>
<rect class="wo" x="818.3" y="76.2" width="107.7" height="14.2"/>
<line class="wl" x1="818.3" y1="79.4" x2="926" y2="79.4"/>
<line class="wl" x1="818.3" y1="84.4" x2="926" y2="84.4"/>
<line class="wt" x1="823.1" y1="79.4" x2="823.1" y2="84.4"/>
<line class="wt" x1="921.2" y1="79.4" x2="921.2" y2="84.4"/>
<line class="wm" x1="823.8" y1="81.9" x2="920.5" y2="81.9"/>
<rect class="wo" x="985.3" y="76.2" width="48.5" height="13.6"/>
<line class="wl" x1="985.3" y1="79.4" x2="1033.8" y2="79.4"/>
<line class="wl" x1="985.3" y1="84.4" x2="1033.8" y2="84.4"/>
<line class="wt" x1="990.1" y1="79.4" x2="990.1" y2="84.4"/>
<line class="wt" x1="1029" y1="79.4" x2="1029" y2="84.4"/>
<line class="wm" x1="990.8" y1="81.9" x2="1028.3" y2="81.9"/>
<rect class="wo" x="1104.9" y="76.2" width="48.8" height="13.6"/>
<line class="wl" x1="1104.9" y1="79.4" x2="1153.7" y2="79.4"/>
<line class="wl" x1="1104.9" y1="84.4" x2="1153.7" y2="84.4"/>
<line class="wt" x1="1109.7" y1="79.4" x2="1109.7" y2="84.4"/>
<line class="wt" x1="1148.9" y1="79.4" x2="1148.9" y2="84.4"/>
<line class="wm" x1="1110.4" y1="81.9" x2="1148.2" y2="81.9"/>
<rect class="wo" x="854" y="473.2" width="66.2" height="13.8"/>
<line class="wl" x1="854" y1="478.8" x2="920.2" y2="478.8"/>
<line class="wl" x1="854" y1="483.8" x2="920.2" y2="483.8"/>
<line class="wt" x1="858.8" y1="478.8" x2="858.8" y2="483.8"/>
<line class="wt" x1="915.4" y1="478.8" x2="915.4" y2="483.8"/>
<line class="wm" x1="859.5" y1="481.3" x2="914.7" y2="481.3"/>
<rect class="wo" x="1030.8" y="473.2" width="38.4" height="13.8"/>
<line class="wl" x1="1030.8" y1="478.8" x2="1069.2" y2="478.8"/>
<line class="wl" x1="1030.8" y1="483.8" x2="1069.2" y2="483.8"/>
<line class="wt" x1="1035.6" y1="478.8" x2="1035.6" y2="483.8"/>
<line class="wt" x1="1064.4" y1="478.8" x2="1064.4" y2="483.8"/>
<line class="wm" x1="1036.3" y1="481.3" x2="1063.7" y2="481.3"/>
<rect class="wo" x="1137.8" y="473.2" width="97.5" height="13.8"/>
<line class="wl" x1="1137.8" y1="478.8" x2="1235.3" y2="478.8"/>
<line class="wl" x1="1137.8" y1="483.8" x2="1235.3" y2="483.8"/>
<line class="wt" x1="1142.6" y1="478.8" x2="1142.6" y2="483.8"/>
<line class="wt" x1="1230.5" y1="478.8" x2="1230.5" y2="483.8"/>
<line class="wm" x1="1143.3" y1="481.3" x2="1229.8" y2="481.3"/>
<rect class="jb" x="954" y="220.3" width="6" height="6.1"/>
<rect class="jb" x="960" y="214.8" width="5.8" height="5.5"/>
<rect class="jb" x="954.5" y="270.3" width="5.5" height="5.5"/>
<rect class="jb" x="959" y="413.7" width="6.2" height="5.7"/>
<rect class="jb" x="959" y="464.3" width="6.2" height="5.7"/>
<rect class="jb" x="1075.6" y="413.5" width="5.8" height="5.7"/>
<rect class="jb" x="1075.6" y="465.3" width="5.8" height="5.7"/>
<rect class="jb" x="1010" y="214.8" width="5.8" height="5.5"/>
<rect class="wo" x="892.4" y="617.4" width="102.8" height="14.8"/>
<line class="wl" x1="892.4" y1="620.6" x2="995.2" y2="620.6"/>
<line class="wl" x1="892.4" y1="625.6" x2="995.2" y2="625.6"/>
<line class="wt" x1="897.2" y1="620.6" x2="897.2" y2="625.6"/>
<line class="wt" x1="990.4" y1="620.6" x2="990.4" y2="625.6"/>
<line class="wm" x1="897.9" y1="623.1" x2="989.7" y2="623.1"/>
<rect class="wo" x="1053" y="618.1" width="52.2" height="13.5"/>
<line class="wl" x1="1053" y1="621.3" x2="1105.2" y2="621.3"/>
<line class="wl" x1="1053" y1="626.3" x2="1105.2" y2="626.3"/>
<line class="wt" x1="1057.8" y1="621.3" x2="1057.8" y2="626.3"/>
<line class="wt" x1="1100.4" y1="621.3" x2="1100.4" y2="626.3"/>
<line class="wm" x1="1058.5" y1="623.8" x2="1099.7" y2="623.8"/>
<rect class="wo" x="941.5" y="911.1" width="57.9" height="13.4"/>
<line class="wl" x1="941.5" y1="916.3" x2="999.4" y2="916.3"/>
<line class="wl" x1="941.5" y1="921.3" x2="999.4" y2="921.3"/>
<line class="wt" x1="946.3" y1="916.3" x2="946.3" y2="921.3"/>
<line class="wt" x1="994.6" y1="916.3" x2="994.6" y2="921.3"/>
<line class="wm" x1="947" y1="918.8" x2="993.9" y2="918.8"/>
<rect class="jb" x="1132" y="723.3" width="6.6" height="6.2"/>
<rect class="jb" x="1131" y="760" width="8.4" height="6"/>
<rect class="jb" x="1063" y="724.5" width="6.4" height="6.1"/>
<rect class="jb" x="1063" y="775.2" width="6.3" height="5.8"/>
</g>
<g>
<text x="250.1" y="80.2" font-size="27.5" font-weight="bold" textLength="172.7" lengthAdjust="spacingAndGlyphs">Ground Floor</text>
<text x="251.8" y="101.1" font-size="16" font-weight="normal" textLength="166.8" lengthAdjust="spacingAndGlyphs">Approx. 1076.8 sq. feet</text>
<text x="982.8" y="29.8" font-size="27.5" font-weight="bold" textLength="133.2" lengthAdjust="spacingAndGlyphs">First Floor</text>
<text x="968.8" y="51.1" font-size="16" font-weight="normal" textLength="157.3" lengthAdjust="spacingAndGlyphs">Approx. 545.9 sq. feet</text>
<text x="961.8" y="571.5" font-size="27.5" font-weight="bold" textLength="173.5" lengthAdjust="spacingAndGlyphs">Second Floor</text>
<text x="968.8" y="592" font-size="16" font-weight="normal" textLength="157.3" lengthAdjust="spacingAndGlyphs">Approx. 229.9 sq. feet</text>
<text x="495" y="958.5" font-size="20.8" font-weight="normal" textLength="311" lengthAdjust="spacingAndGlyphs">Total area: approx. 1852.6 sq. feet</text>
<text x="433.9" y="981.2" font-size="12.6" font-weight="normal" textLength="441.6" lengthAdjust="spacingAndGlyphs">Produced for Cassidy &amp; Tate Estate Agents. For guidance purposes, not to scale.</text>
<text x="575.5" y="1023.3" font-size="12.6" font-weight="normal" textLength="158.5" lengthAdjust="spacingAndGlyphs">Plan produced using PlanUp.</text>
<text x="117" y="256.6" font-size="20" font-weight="bold" textLength="213.7" lengthAdjust="spacingAndGlyphs">Kitchen/Dining/Family</text>
<text x="196.9" y="277.2" font-size="20" font-weight="bold" textLength="57.1" lengthAdjust="spacingAndGlyphs">Room</text>
<text x="178.6" y="293.7" font-size="16.8" font-weight="normal" textLength="92.6" lengthAdjust="spacingAndGlyphs">21'9&quot; x 20'3&quot;</text>
<text x="43" y="410.2" font-size="20" font-weight="bold" textLength="71.9" lengthAdjust="spacingAndGlyphs">Cinema</text>
<text x="51.6" y="431.1" font-size="20" font-weight="bold" textLength="55.8" lengthAdjust="spacingAndGlyphs">Room</text>
<text x="39" y="447.8" font-size="16.8" font-weight="normal" textLength="81.8" lengthAdjust="spacingAndGlyphs">10'9&quot; x 8'1&quot;</text>
<text x="226.6" y="514.7" font-size="11" font-weight="bold" textLength="57.3" lengthAdjust="spacingAndGlyphs">Cloakroom</text>
<text x="336.1" y="558.7" font-size="20" font-weight="bold" textLength="55.2" lengthAdjust="spacingAndGlyphs">Utility</text>
<text x="336.1" y="579" font-size="20" font-weight="bold" textLength="55.8" lengthAdjust="spacingAndGlyphs">Room</text>
<text x="326.4" y="596.4" font-size="16.8" font-weight="normal" textLength="74.6" lengthAdjust="spacingAndGlyphs">9'3&quot; x 7'1&quot;</text>
<text x="480" y="592.6" font-size="20" font-weight="bold" textLength="68.8" lengthAdjust="spacingAndGlyphs">Garage</text>
<text x="474.2" y="610" font-size="16.8" font-weight="normal" textLength="82.3" lengthAdjust="spacingAndGlyphs">17'7&quot; x 8'3&quot;</text>
<text x="64.9" y="671.7" font-size="20" font-weight="bold" textLength="58.4" lengthAdjust="spacingAndGlyphs">Living</text>
<text x="65.9" y="692.6" font-size="20" font-weight="bold" textLength="56.1" lengthAdjust="spacingAndGlyphs">Room</text>
<text x="68.5" y="710" font-size="16.8" font-weight="normal" textLength="49.8" lengthAdjust="spacingAndGlyphs">17' x 9'</text>
<text x="189.3" y="769.1" font-size="20" font-weight="bold" textLength="85" lengthAdjust="spacingAndGlyphs">Entrance</text>
<text x="215.2" y="789.3" font-size="20" font-weight="bold" textLength="35.2" lengthAdjust="spacingAndGlyphs">Hall</text>
<text x="369.5" y="737.6" font-size="20" font-weight="bold" textLength="54.8" lengthAdjust="spacingAndGlyphs">Home</text>
<text x="369" y="757.3" font-size="20" font-weight="bold" textLength="55.8" lengthAdjust="spacingAndGlyphs">Office</text>
<text x="356.2" y="775.2" font-size="16.8" font-weight="normal" textLength="82" lengthAdjust="spacingAndGlyphs">10'9&quot; x 8'8&quot;</text>
<text x="825.9" y="163.6" font-size="20" font-weight="bold" textLength="105.7" lengthAdjust="spacingAndGlyphs">Bedroom 4</text>
<text x="838.3" y="180.3" font-size="16.8" font-weight="normal" textLength="81.9" lengthAdjust="spacingAndGlyphs">10'8&quot; x 8'6&quot;</text>
<text x="963.5" y="147.5" font-size="14" font-weight="bold" textLength="68" lengthAdjust="spacingAndGlyphs">Bathroom</text>
<text x="1105.9" y="152.3" font-size="20" font-weight="bold" textLength="78.5" lengthAdjust="spacingAndGlyphs">En-suite</text>
<text x="836.6" y="367.9" font-size="20" font-weight="bold" textLength="106" lengthAdjust="spacingAndGlyphs">Bedroom 3</text>
<text x="848.8" y="384.4" font-size="16.8" font-weight="normal" textLength="82.7" lengthAdjust="spacingAndGlyphs">10'7&quot; x 8'8&quot;</text>
<text x="1132.9" y="365" font-size="20" font-weight="bold" textLength="105.1" lengthAdjust="spacingAndGlyphs">Bedroom 1</text>
<text x="1141" y="381.2" font-size="16.8" font-weight="normal" textLength="91" lengthAdjust="spacingAndGlyphs">12'3&quot; x 10'7&quot;</text>
<text x="976.2" y="449.4" font-size="20" font-weight="bold" textLength="77.9" lengthAdjust="spacingAndGlyphs">Landing</text>
<text x="1019.9" y="674.7" font-size="20" font-weight="bold" textLength="78.5" lengthAdjust="spacingAndGlyphs">En-suite</text>
<text x="1143.2" y="747.2" font-size="16.5" font-weight="bold" textLength="46.3" lengthAdjust="spacingAndGlyphs">Eaves</text>
<text x="902.8" y="755.9" font-size="20" font-weight="bold" textLength="105.2" lengthAdjust="spacingAndGlyphs">Bedroom 2</text>
<text x="909.8" y="773.3" font-size="16.8" font-weight="normal" textLength="91.3" lengthAdjust="spacingAndGlyphs">15'9&quot; x 10'5&quot;</text>
</g>
</svg>
</body></html>
